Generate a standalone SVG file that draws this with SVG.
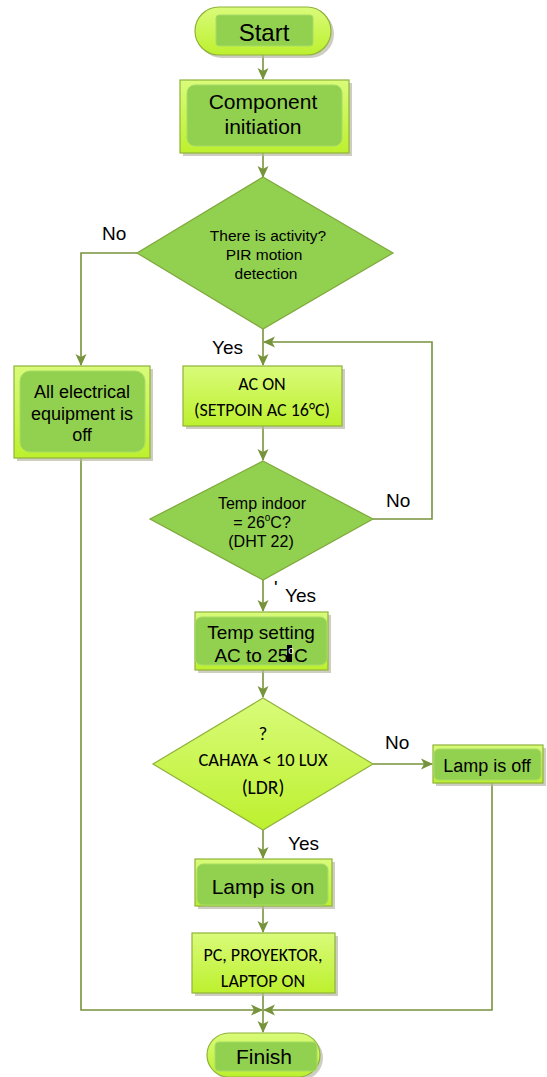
<svg xmlns="http://www.w3.org/2000/svg" width="547" height="1077" viewBox="0 0 547 1077">
<style>
.outer{fill:url(#lime);stroke:#8fb23a;stroke-width:1.2}
.inner{fill:#92d050;stroke:#a6dc66;stroke-width:1}
.shadow{fill:#b8b8a8;opacity:0.7}
.con{fill:none;stroke:#77933c;stroke-width:1.6}
.t{font-family:"Liberation Sans",Arial,sans-serif;fill:#000;text-anchor:middle}
.c{font-family:Carlito,Lato,"Open Sans",sans-serif;fill:#000;text-anchor:middle}
.lbl{font-family:"Liberation Sans",Arial,sans-serif;font-size:19px;fill:#000}
</style>
<defs>
<linearGradient id="lime" x1="0" y1="0" x2="0" y2="1">
<stop offset="0" stop-color="#d9fb7a"/>
<stop offset="1" stop-color="#bdf02e"/>
</linearGradient>
<marker id="arr" markerWidth="12" markerHeight="12" refX="11" refY="6" orient="auto" markerUnits="userSpaceOnUse">
<path d="M0,0.5 L12,6 L0,11.5 L3,6 Z" fill="#77933c"/>
</marker>
</defs>

<g id="connectors">
<path class="con" d="M263,55 V79" marker-end="url(#arr)"/>
<path class="con" d="M263,153 V177" marker-end="url(#arr)"/>
<path class="con" d="M137,253 H81 V365" marker-end="url(#arr)"/>
<path class="con" d="M263,329 V365" marker-end="url(#arr)"/>
<path class="con" d="M263,426 V460" marker-end="url(#arr)"/>
<path class="con" d="M373,519 H432 V342 H264" marker-end="url(#arr)"/>
<path class="con" d="M263,580 V611" marker-end="url(#arr)"/>
<path class="con" d="M263,670 V697" marker-end="url(#arr)"/>
<path class="con" d="M373,764 H432" marker-end="url(#arr)"/>
<path class="con" d="M263,830 V858" marker-end="url(#arr)"/>
<path class="con" d="M263,906 V932" marker-end="url(#arr)"/>
<path class="con" d="M81,458 V1010 H262" marker-end="url(#arr)"/>
<path class="con" d="M492,783 V1010 H264" marker-end="url(#arr)"/>
<path class="con" d="M263,993 V1032" marker-end="url(#arr)"/>
</g>

<g id="labels">
<text class="lbl" x="102" y="240">No</text>
<text class="lbl" x="212" y="354">Yes</text>
<text class="lbl" x="386" y="507">No</text>
<text class="lbl" x="274" y="594" font-size="10">'</text>
<text class="lbl" x="285" y="602">Yes</text>
<text class="lbl" x="385" y="749">No</text>
<text class="lbl" x="288" y="850">Yes</text>
</g>

<g id="start">
<rect x="198" y="10" width="136" height="48" rx="24" class="shadow"/>
<rect x="195" y="7" width="136" height="48" rx="24" class="outer"/>
<rect x="216" y="15" width="97" height="31" rx="3" class="inner"/>
<text class="t" x="264" y="41" font-size="24">Start</text>
</g>

<g id="init">
<rect x="183" y="83" width="169" height="73" class="shadow"/>
<rect x="180" y="80" width="169" height="73" class="outer"/>
<rect x="187" y="85" width="155" height="61" rx="8" class="inner"/>
<text class="t" x="263" y="109" font-size="21">Component</text>
<text class="t" x="263" y="134" font-size="21">initiation</text>
</g>

<g id="decision1">
<polygon points="263,177 393,253 263,329 137,253" fill="#92d050" stroke="#7fa83c" stroke-width="1.2"/>
<text class="t" x="268" y="241" font-size="15.5">There is activity?</text>
<text class="t" x="264" y="260" font-size="15.5">PIR motion</text>
<text class="t" x="266" y="279" font-size="15.5">detection</text>
</g>

<g id="alloff">
<rect x="17" y="369" width="136" height="92" class="shadow"/>
<rect x="14" y="366" width="136" height="92" class="outer"/>
<rect x="20" y="371" width="125" height="81" rx="10" class="inner"/>
<text class="t" x="82" y="398" font-size="18">All electrical</text>
<text class="t" x="82" y="420" font-size="18">equipment is</text>
<text class="t" x="82" y="441" font-size="18">off</text>
</g>

<g id="acon">
<rect x="186" y="369" width="159" height="60" class="shadow"/>
<rect x="183" y="366" width="159" height="60" class="outer"/>
<text class="c" x="262" y="390" font-size="18">AC ON</text>
<text class="c" x="262" y="416" font-size="18">(SETPOIN AC 16°C)</text>
</g>

<g id="decision2">
<polygon points="263,461 373,519 263,580 150,519" fill="#92d050" stroke="#7fa83c" stroke-width="1.2"/>
<text class="t" x="262" y="509" font-size="16">Temp indoor</text>
<text class="t" x="262" y="528" font-size="16">= 26<tspan font-size="10" dy="-7">o</tspan><tspan dy="7">C?</tspan></text>
<text class="t" x="261" y="547" font-size="16">(DHT 22)</text>
</g>

<g id="tempset">
<rect x="198" y="615" width="133" height="58" class="shadow"/>
<rect x="195" y="612" width="133" height="58" class="outer"/>
<rect x="195" y="617" width="132" height="48" rx="7" class="inner"/>
<text class="t" x="261" y="639" font-size="19">Temp setting</text>
<rect x="287" y="645" width="5" height="17" fill="#000"/>
<text class="t" x="261" y="662" font-size="19">AC to 25<tspan fill="#fff" font-size="10" dy="-8">o</tspan><tspan dy="8">C</tspan></text>
</g>

<g id="decision3">
<polygon points="263,698 373,764 263,830 153,764" fill="url(#lime)" stroke="#8fb23a" stroke-width="1.2"/>
<text class="c" x="263" y="740" font-size="19">?</text>
<text class="c" x="263" y="766" font-size="18.5">CAHAYA &lt; 10 LUX</text>
<text class="c" x="263" y="794" font-size="19.5">(LDR)</text>
</g>

<g id="lampoff">
<rect x="436" y="748" width="110" height="38" class="shadow"/>
<rect x="433" y="745" width="110" height="38" class="outer"/>
<rect x="434" y="749" width="107" height="31" rx="5" class="inner"/>
<text class="t" x="487" y="772" font-size="18">Lamp is off</text>
</g>

<g id="lampon">
<rect x="198" y="862" width="137" height="47" class="shadow"/>
<rect x="195" y="859" width="137" height="47" class="outer"/>
<rect x="197" y="864" width="131" height="41" rx="6" class="inner"/>
<text class="t" x="263" y="894" font-size="21">Lamp is on</text>
</g>

<g id="devices">
<rect x="195" y="936" width="143" height="60" class="shadow"/>
<rect x="192" y="933" width="143" height="60" class="outer"/>
<text class="c" x="263" y="961" font-size="18">PC, PROYEKTOR,</text>
<text class="c" x="263" y="987" font-size="18">LAPTOP ON</text>
</g>

<g id="finish">
<rect x="210" y="1036" width="113" height="44" rx="22" class="shadow"/>
<rect x="207" y="1033" width="113" height="44" rx="22" class="outer"/>
<rect x="215" y="1042" width="102" height="29" rx="4" class="inner"/>
<text class="t" x="264" y="1064" font-size="21">Finish</text>
</g>
</svg>
